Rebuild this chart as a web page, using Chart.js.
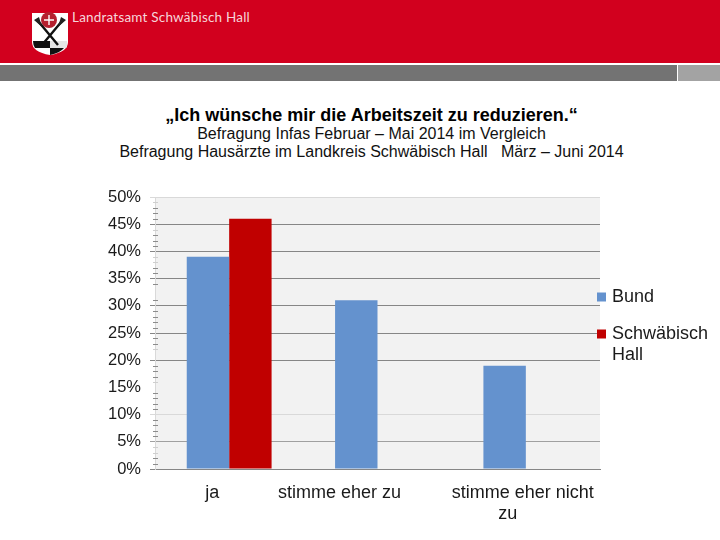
<!DOCTYPE html>
<html lang="de">
<head>
<meta charset="utf-8">
<title>Arbeitszeit reduzieren</title>
<script src="https://cdn.jsdelivr.net/npm/chart.js@4"></script>
<style>
  html, body { margin: 0; padding: 0; background: #fff; }
  #folie { position: relative; width: 720px; height: 540px; overflow: hidden; font-family: "Liberation Sans", Arial, sans-serif; }
  #rot { position: absolute; left: 0; top: 0; width: 720px; height: 63px; background: #d2001e; }
  #grau { position: absolute; left: 0; top: 65px; width: 677px; height: 16px; background: #737373; }
  #grau2 { position: absolute; left: 678px; top: 65px; width: 42px; height: 16px; background: #a3a3a3; }
  #wappen { position: absolute; left: 31px; top: 12px; }
  #amt { position: absolute; left: 72px; top: 9px; font: 13.5px "Lato", sans-serif; letter-spacing: 0.2px; color: #f6d5da; white-space: nowrap; }
  #titel { position: absolute; left: 0; top: 106px; width: 743px; text-align: center; color: #000; white-space: pre; }
  #titel b { display: block; font-size: 18px; line-height: 19px; }
  #titel span { display: block; font-size: 16px; line-height: 18px; color: #111; }
  canvas { position: absolute; left: 0; top: 0; }
</style>
</head>
<body>
<div id="folie">
  <div id="rot"></div>
  <div id="grau"></div>
  <div id="grau2"></div>
  <svg id="wappen" width="38" height="44" viewBox="0 0 38 44">
    <path d="M1 1 H37 V30 Q37 40 19 43 Q1 40 1 30 Z" fill="#fff"/>
    <path d="M2 29 H19 V36 H4 Q2 33 2 29 Z" fill="#111"/>
    <path d="M19 36 H33 Q29 41 19 43 Z" fill="#111"/>
    <path d="M19 29 H36 V34 Q36 35 35 36 H19 Z" fill="#e6e6e6"/>
    <circle cx="18" cy="8" r="8" fill="#b5202f"/>
    <path d="M18 3 V13 M13 8 H23" stroke="#fff" stroke-width="1.4"/>
    <path d="M7 9 L27 33 M31 9 L11 33" stroke="#111" stroke-width="2.4"/>
    <path d="M3 8 L8 5 L11 15 Z M35 8 L30 5 L27 15 Z" fill="#222"/>
  </svg>
  <div id="amt">Landratsamt Schwäbisch Hall</div>
  <div id="titel"><b>„Ich wünsche mir die Arbeitszeit zu reduzieren.“</b><span>Befragung Infas Februar – Mai 2014 im Vergleich</span><span>Befragung Hausärzte im Landkreis Schwäbisch Hall   März – Juni 2014</span></div>
  <canvas id="diagramm" width="720" height="540"></canvas>
</div>
<script>
const kategorien = ['ja', 'stimme eher zu', ['stimme eher nicht', 'zu']];
const bund = [39, 31, 19];
const schwaebischHall = [46, null, null];
const serienNamen = ['Bund', ['Schwäbisch', 'Hall']];

// kleine Striche an der Achse, im Original teils kräftig, teils blass, teils fehlend
const strichDunkel = [48, 47, 46, 43, 42, 41, 37, 36, 34, 31, 29, 28, 27, 26, 24, 23, 19, 18, 17, 14, 13, 12, 11, 9, 8, 7, 6, 2, 1];
const strichHell = [49, 44, 39, 38, 22, 16, 4, 3];

const schrift = '"Liberation Sans", Arial, sans-serif';
const textFarbe = '#1a1a1a';
const linieDunkel = '#868686';
const linieHell = '#d9d9d9';

// Achsenbeschriftung steht im Original nicht mittig unter der Kategorie, pro Zeile
const labelVersatz = [[-17], [-38], [-3, -18]];

function rasterFarbe(wert) {
    if (wert === 50 || wert === 10) return linieHell;
    if (wert === 5) return '#a0a0a0';
    if (wert % 5 === 0 && wert !== 15) return linieDunkel;
    return 'rgba(0,0,0,0)';
}

const folienPlugin = {
    id: 'folie',
    afterLayout(chart) {
        chart.legend.left = 581;
        chart.legend.top = 269;
        chart.legend.bottom = 420;
    },
    beforeDraw(chart) {
        const { ctx, chartArea: a } = chart;
        ctx.save();
        ctx.fillStyle = '#f2f2f2';
        ctx.fillRect(a.left, a.top, a.right - a.left, a.bottom - a.top);
        ctx.restore();
    },
    beforeDatasetsDraw(chart) {
        const { ctx, chartArea: a, scales } = chart;
        ctx.save();
        ctx.lineWidth = 1;
        [[strichDunkel, '#8c8c8c'], [strichHell, '#cfcfcf']].forEach(([werte, farbe]) => {
            ctx.strokeStyle = farbe;
            werte.forEach(w => {
                const y = Math.round(scales.y.getPixelForValue(w)) + 0.5;
                ctx.beginPath();
                ctx.moveTo(a.left - 2, y);
                ctx.lineTo(a.left + 3, y);
                ctx.stroke();
            });
        });
        ctx.restore();
    },
    afterDraw(chart) {
        const { ctx, scales } = chart;
        ctx.save();
        ctx.font = '18px ' + schrift;
        ctx.fillStyle = textFarbe;
        ctx.textAlign = 'center';
        ctx.textBaseline = 'middle';
        kategorien.forEach((kat, i) => {
            const mitte = scales.x.getPixelForValue(i);
            [].concat(kat).forEach((zeile, n) => ctx.fillText(zeile, mitte + labelVersatz[i][n], 493 + n * 21));
        });
        ctx.restore();
    }
};

new Chart(document.getElementById('diagramm'), {
    type: 'bar',
    data: {
        labels: kategorien,
        datasets: [
            { label: serienNamen[0], data: bund, backgroundColor: '#6492ce' },
            { label: serienNamen[1], data: schwaebischHall, backgroundColor: '#c00000' }
        ]
    },
    options: {
        responsive: false,
        animation: false,
        datasets: { bar: { categoryPercentage: 0.572, barPercentage: 1 } },
        layout: { padding: { top: 197, right: 0, left: 0, bottom: 0 } },
        plugins: {
            tooltip: { enabled: false },
            title: { display: false },
            legend: {
                position: 'right',
                align: 'start',
                maxWidth: 120,
                labels: {
                    color: textFarbe,
                    font: { family: schrift, size: 18, lineHeight: 1.17 },
                    usePointStyle: true,
                    pointStyle: 'rect',
                    boxWidth: 3,
                    boxHeight: 9,
                    padding: 19
                }
            }
        },
        scales: {
            x: {
                ticks: { display: false },
                grid: { display: false },
                border: { color: linieDunkel },
                afterFit(scale) { scale.height = 71; }
            },
            y: {
                min: 0,
                max: 50,
                ticks: {
                    stepSize: 1,
                    autoSkip: false,
                    padding: 9,
                    color: textFarbe,
                    font: { family: schrift, size: 16.5 },
                    callback: wert => (wert % 5 === 0 ? wert + '%' : '')
                },
                grid: {
                    color: c => rasterFarbe(c.tick.value),
                    tickColor: c => rasterFarbe(c.tick.value),
                    tickLength: 5
                },
                border: { color: linieHell },
                afterFit(scale) { scale.width = 155; }
            }
        }
    },
    plugins: [folienPlugin]
});
</script>
</body>
</html>
